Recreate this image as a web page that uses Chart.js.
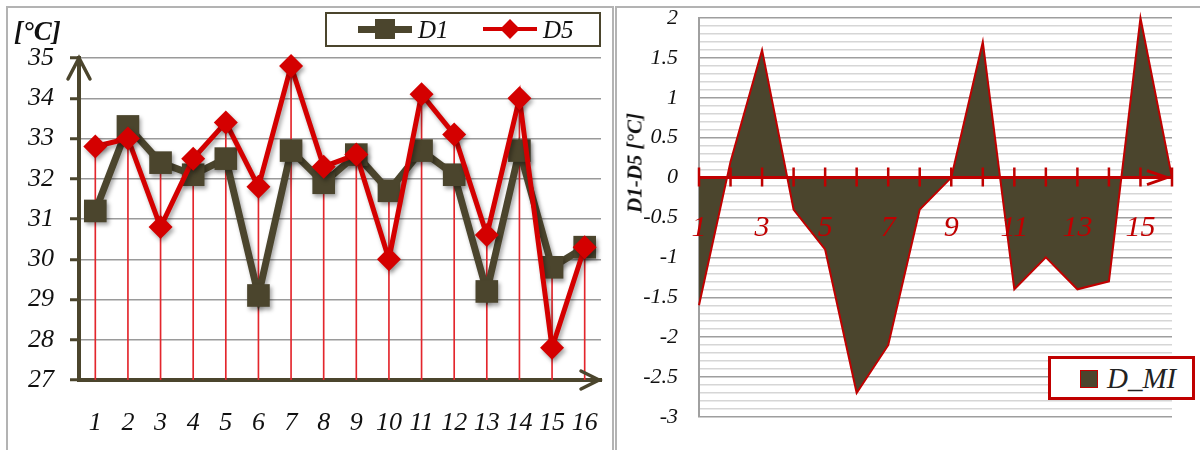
<!DOCTYPE html>
<html lang="en">
<head>
  <meta charset="UTF-8">
  <title>D1 / D5 temperature and difference</title>
  <script src="https://cdn.jsdelivr.net/npm/chart.js"></script>
  <style>
    body { margin: 0; background: #fff; font-family: "Liberation Serif", serif; }
    .panel { position: absolute; top: 6px; height: 460px; border: 2px solid #b3b3b3; box-sizing: border-box; }
    #leftPanel { left: 6px; width: 608px; }
    #rightPanel { left: 615px; width: 600px; }
    .wrap { position: absolute; }
    #leftWrap { left: 8px; top: 8px; width: 603px; height: 442px; }
    #rightWrap { left: 617px; top: 8px; width: 583px; height: 442px; }
    .unit { position: absolute; left: 14px; top: 15px; font: italic bold 27px "Liberation Serif", serif; line-height: 32px; color: #111; }
    .ytitle { position: absolute; left: 635px; top: 163px; transform: translate(-50%, -50%) rotate(-90deg); font: italic bold 21px "Liberation Serif", serif; white-space: nowrap; color: #111; }
    .legend { position: absolute; background: #fff; box-sizing: border-box; }
    .legend span { position: absolute; }
    #legendLeft { left: 325px; top: 12px; width: 276px; height: 35px; border: 2px solid #4b452d; }
    #legendLeft .txt { top: 0; font: italic 25px "Liberation Serif", serif; line-height: 31px; color: #111; }
    #legendRight { left: 1048px; top: 356px; width: 147px; height: 44px; border: 3px solid #c00000; }
    #legendRight .txt { left: 56px; top: 0; font: italic 29px "Liberation Serif", serif; line-height: 38px; color: #222; }
  </style>
</head>
<body>
  <div class="panel" id="leftPanel"></div>
  <div class="panel" id="rightPanel"></div>
  <div class="wrap" id="leftWrap"><canvas id="tempChart" width="603" height="442"></canvas></div>
  <div class="wrap" id="rightWrap"><canvas id="diffChart" width="583" height="442"></canvas></div>

  <div class="unit">[°C]</div>
  <div class="ytitle">D1-D5 [°C]</div>

  <div class="legend" id="legendLeft">
    <span style="left:31px;top:12px;width:54px;height:7px;background:#4b452d"></span>
    <span style="left:48px;top:5px;width:20px;height:20px;background:#4b452d"></span>
    <span class="txt" style="left:91px">D1</span>
    <span style="left:156px;top:13px;width:54px;height:4px;background:#d40000"></span>
    <span style="left:176px;top:8px;width:14px;height:14px;background:#d40000;transform:rotate(45deg)"></span>
    <span class="txt" style="left:216px">D5</span>
  </div>

  <div class="legend" id="legendRight">
    <span style="left:29px;top:11px;width:18px;height:18px;background:#4b452d;border:1px solid #c00000;box-sizing:border-box"></span>
    <span class="txt">D_MI</span>
  </div>

  <script>
    // readings
    const days = ['1', '2', '3', '4', '5', '6', '7', '8', '9', '10', '11', '12', '13', '14', '15', '16'];
    const d1Values = [31.2, 33.3, 32.4, 32.1, 32.5, 29.1, 32.7, 31.9, 32.6, 31.7, 32.7, 32.1, 29.2, 32.7, 29.8, 30.3];
    const d5Values = [32.8, 33.0, 30.8, 32.5, 33.4, 31.8, 34.8, 32.3, 32.6, 30.0, 34.1, 33.1, 30.6, 34.0, 27.8, 30.3];
    const diffValues = [-1.6, 0.2, 1.6, -0.4, -0.9, -2.7, -2.1, -0.4, 0.0, 1.7, -1.4, -1.0, -1.4, -1.3, 2.0, 0.0];

    const tempMin = 27, tempMax = 35;
    const diffMin = -3, diffMax = 2;

    const olive = '#4b452d';
    const red = '#d40000';
    const darkRed = '#c00000';
    const serif = '"Liberation Serif", serif';

    // drop lines go from the higher of the two series down to the axis
    const dropValues = d1Values.map((v, i) => Math.max(v, d5Values[i]));

    const shadowPlugin = {
      id: 'shadow',
      beforeDatasetDraw(chart, args) {
        if (chart.data.datasets[args.index].type !== 'line') return;
        const ctx = chart.ctx;
        ctx.save();
        ctx.shadowColor = 'rgba(0,0,0,0.35)';
        ctx.shadowBlur = 4;
        ctx.shadowOffsetX = 2;
        ctx.shadowOffsetY = 3;
      },
      afterDatasetDraw(chart, args) {
        if (chart.data.datasets[args.index].type !== 'line') return;
        chart.ctx.restore();
      }
    };

    const axisArrows = {
      id: 'axisArrows',
      afterDraw(chart) {
        const ctx = chart.ctx;
        const a = chart.chartArea;
        ctx.save();
        ctx.strokeStyle = olive;
        ctx.lineWidth = 3.5;
        ctx.lineCap = 'round';
        ctx.beginPath();
        ctx.moveTo(a.left - 11, a.top + 21);
        ctx.lineTo(a.left, a.top);
        ctx.lineTo(a.left + 11, a.top + 21);
        ctx.moveTo(a.right - 20, a.bottom - 9);
        ctx.lineTo(a.right - 2, a.bottom);
        ctx.lineTo(a.right - 20, a.bottom + 9);
        ctx.stroke();
        ctx.restore();
      }
    };

    new Chart(document.getElementById('tempChart'), {
      data: {
        labels: days,
        datasets: [
          {
            type: 'bar',
            label: 'drop',
            data: dropValues,
            backgroundColor: '#e3262c',
            barThickness: 1,
            clip: 0,
            order: 3
          },
          {
            type: 'line',
            label: 'D1',
            data: d1Values,
            borderColor: olive,
            borderWidth: 7,
            pointStyle: 'rect',
            pointRadius: 16,
            pointBackgroundColor: olive,
            pointBorderWidth: 0,
            tension: 0,
            clip: false,
            order: 2
          },
          {
            type: 'line',
            label: 'D5',
            data: d5Values,
            borderColor: red,
            borderWidth: 5,
            pointStyle: 'rectRot',
            pointRadius: 12,
            pointBackgroundColor: red,
            pointBorderWidth: 0,
            tension: 0,
            clip: false,
            order: 1
          }
        ]
      },
      options: {
        responsive: false,
        animation: false,
        events: [],
        layout: { autoPadding: false, padding: { top: 50, right: 10, left: 0, bottom: 0 } },
        plugins: { legend: { display: false }, tooltip: { enabled: false } },
        scales: {
          x: {
            offset: true,
            grid: { display: false, drawTicks: false },
            border: { color: olive, width: 4 },
            ticks: { color: '#111', padding: 28, autoSkip: false, maxRotation: 0, font: { family: serif, style: 'italic', size: 26 } },
            afterFit(scale) {
              scale.height = 70;
              scale.paddingLeft = 0;
              scale.paddingRight = 0;
            }
          },
          y: {
            min: tempMin,
            max: tempMax,
            ticks: { stepSize: 1, color: '#111', padding: 16, font: { family: serif, style: 'italic', size: 26 } },
            grid: { color: '#9a9a9a', lineWidth: 1.5, tickColor: olive, tickLength: 9, tickWidth: 3 },
            border: { color: olive, width: 4 },
            afterFit(scale) {
              scale.width = 71;
              scale.paddingTop = 0;
              scale.paddingBottom = 0;
            }
          }
        }
      },
      plugins: [shadowPlugin, axisArrows]
    });

    const zeroAxis = {
      id: 'zeroAxis',
      afterDatasetsDraw(chart) {
        const ctx = chart.ctx;
        const a = chart.chartArea;
        const xs = chart.scales.x;
        const y0 = chart.scales.y.getPixelForValue(0);
        ctx.save();
        ctx.strokeStyle = darkRed;
        ctx.lineWidth = 3;
        ctx.beginPath();
        ctx.moveTo(a.left, y0);
        ctx.lineTo(a.right, y0);
        ctx.stroke();
        ctx.lineWidth = 2.5;
        ctx.beginPath();
        diffValues.forEach((v, i) => {
          const px = xs.getPixelForValue(i);
          ctx.moveTo(px, y0 - 10);
          ctx.lineTo(px, y0 + 9);
        });
        ctx.stroke();
        ctx.lineWidth = 3;
        ctx.beginPath();
        ctx.moveTo(a.right - 25, y0 - 7);
        ctx.lineTo(a.right - 5, y0);
        ctx.lineTo(a.right - 25, y0 + 7);
        ctx.stroke();
        ctx.restore();
      }
    };

    new Chart(document.getElementById('diffChart'), {
      type: 'line',
      data: {
        labels: days,
        datasets: [{
          label: 'D_MI',
          data: diffValues,
          fill: 'origin',
          backgroundColor: olive,
          borderColor: darkRed,
          borderWidth: 2,
          pointRadius: 0,
          tension: 0,
          clip: false
        }]
      },
      options: {
        responsive: false,
        animation: false,
        events: [],
        layout: { autoPadding: false, padding: { top: 10, right: 28, left: 0, bottom: 33 } },
        plugins: { legend: { display: false }, tooltip: { enabled: false } },
        scales: {
          x: {
            position: { y: 0 },
            offset: false,
            grid: { display: false, drawTicks: false },
            border: { display: false },
            ticks: {
              z: 1,
              color: darkRed,
              padding: 33,
              autoSkip: false,
              maxRotation: 0,
              font: { family: serif, style: 'italic', size: 30 },
              callback: (v, i) => (i % 2 === 0 ? days[i] : '')
            },
            afterFit(scale) {
              scale.height = 0;
              scale.paddingLeft = 0;
              scale.paddingRight = 0;
            }
          },
          y: {
            min: diffMin,
            max: diffMax,
            ticks: {
              stepSize: 0.1,
              autoSkip: false,
              color: '#111',
              padding: 21,
              font: { family: serif, style: 'italic', size: 22 },
              callback: (v) => {
                const t = Math.round(v * 10);
                return t % 5 === 0 ? String(t / 10) : '';
              }
            },
            grid: {
              drawTicks: false,
              lineWidth: 1.5,
              color: (c) => (Math.round(c.tick.value * 10) % 5 === 0 ? '#9e9e9e' : '#d6d6d6')
            },
            border: { color: '#a0a0a0', width: 2 },
            afterFit(scale) {
              scale.width = 82;
              scale.paddingTop = 0;
              scale.paddingBottom = 0;
            }
          }
        }
      },
      plugins: [zeroAxis]
    });
  </script>
</body>
</html>
